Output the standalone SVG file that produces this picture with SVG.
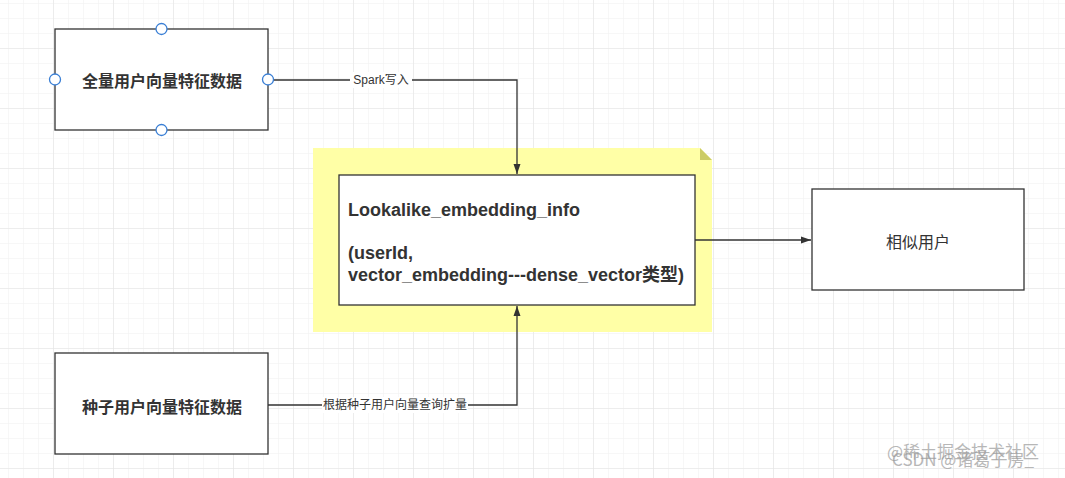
<svg xmlns="http://www.w3.org/2000/svg" width="1065" height="478" viewBox="0 0 1065 478">
  <defs>
    <pattern id="minor" x="8" y="3" width="15" height="15" patternUnits="userSpaceOnUse">
      <path d="M0 0H15M0 0V15" fill="none" stroke="#f0f0f0" stroke-width="1"/>
    </pattern>
    <pattern id="major" x="53" y="48" width="60" height="60" patternUnits="userSpaceOnUse">
      <path d="M0 0H60M0 0V60" fill="none" stroke="#e4e4e4" stroke-width="1.2"/>
    </pattern>
    <marker id="arrow" viewBox="0 0 10 10" refX="10" refY="5" markerWidth="10" markerHeight="10" markerUnits="userSpaceOnUse" orient="auto">
      <path d="M0 1.5L10 5L0 8.5Z" fill="#333"/>
    </marker>
    <style>
      .box { fill: #ffffff; stroke: #333333; stroke-width: 1.3; }
      .title { font-family: "Noto Sans CJK SC", "Liberation Sans", sans-serif; font-size: 16px; font-weight: bold; fill: #333333; text-anchor: middle; dominant-baseline: central; }
      .plain { font-family: "Noto Sans CJK SC", "Liberation Sans", sans-serif; font-size: 16px; fill: #333333; text-anchor: middle; dominant-baseline: central; }
      .mono { font-family: "Liberation Sans", "Noto Sans CJK SC", sans-serif; font-size: 18px; font-weight: bold; fill: #333333; }
      .edge { fill: none; stroke: #333333; stroke-width: 1.3; }
      .label { font-family: "Liberation Sans", "Noto Sans CJK SC", sans-serif; font-size: 12px; fill: #333333; text-anchor: middle; dominant-baseline: central; }
      .lblbg { fill: #ffffff; }
      .handle { fill: #ffffff; stroke: #3a7fd5; stroke-width: 1.3; }
      .wm { font-family: "Noto Sans CJK SC", "Liberation Sans", sans-serif; font-size: 17px; fill: #9a9a9a; opacity: 0.7; }
    </style>
  </defs>
  <rect width="1065" height="478" fill="#ffffff"/>
  <rect width="1065" height="478" fill="url(#minor)"/>
  <rect width="1065" height="478" fill="url(#major)"/>

  <g id="note">
    <path d="M313 148H700L712 160V332H313Z" fill="#ffffa6"/>
    <path d="M700 148V160H712Z" fill="#cccc66"/>
  </g>

  <g id="connectors">
    <path class="edge" d="M268 80H517V174" marker-end="url(#arrow)"/>
    <rect class="lblbg" x="350" y="72" width="62" height="16"/>
    <text class="label" x="381" y="80">Spark写入</text>
    <path class="edge" d="M268 405H517V306" marker-end="url(#arrow)"/>
    <rect class="lblbg" x="322" y="397" width="146" height="16"/>
    <text class="label" x="395" y="405">根据种子用户向量查询扩量</text>
    <path class="edge" d="M695 240H811" marker-end="url(#arrow)"/>
  </g>

  <g id="node-all">
    <rect class="box" x="55" y="29" width="213" height="101"/>
    <text class="title" x="162" y="80">全量用户向量特征数据</text>
    <circle class="handle" cx="161.5" cy="29" r="5.5"/>
    <circle class="handle" cx="55" cy="79.5" r="5.5"/>
    <circle class="handle" cx="268" cy="79.5" r="5.5"/>
    <circle class="handle" cx="161.5" cy="130" r="5.5"/>
  </g>

  <g id="node-info">
    <rect class="box" x="339" y="175" width="356" height="130"/>
    <text class="mono" x="348" y="216">Lookalike_embedding_info</text>
    <text class="mono" x="348" y="259">(userId,</text>
    <text class="mono" x="348" y="281">vector_embedding---dense_vector类型)</text>
  </g>

  <g id="node-similar">
    <rect class="box" x="812" y="189" width="212" height="101"/>
    <text class="plain" x="918" y="241">相似用户</text>
  </g>

  <g id="node-seed">
    <rect class="box" x="55" y="353" width="213" height="101"/>
    <text class="title" x="162" y="406">种子用户向量特征数据</text>
  </g>

  <g id="watermark">
    <text class="wm" x="887" y="458">@稀土掘金技术社区</text>
    <text class="wm" x="892" y="466">CSDN @诸葛子房_</text>
  </g>
</svg>
